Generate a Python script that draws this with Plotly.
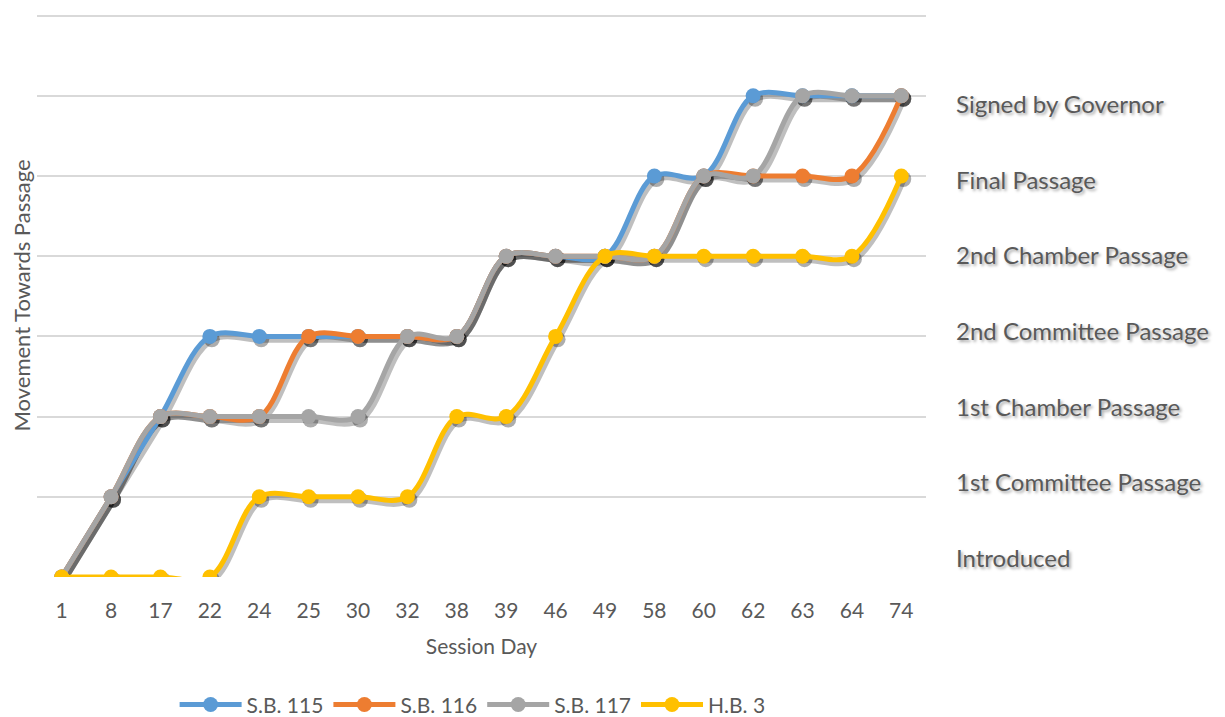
import plotly.graph_objects as go

session_days = ["1", "8", "17", "22", "24", "25", "30", "32", "38", "39", "46", "49", "58", "60", "62", "63", "64", "74"]
stages = ["Introduced", "1st Committee Passage", "1st Chamber Passage", "2nd Committee Passage",
          "2nd Chamber Passage", "Final Passage", "Signed by Governor"]

sb115 = [0, 1, 2, 3, 3, 3, 3, 3, 3, 4, 4, 4, 5, 5, 6, 6, 6, 6]
sb116 = [0, 1, 2, 2, 2, 3, 3, 3, 3, 4, 4, 4, 4, 5, 5, 5, 5, 6]
sb117 = [0, 1, 2, 2, 2, 2, 2, 3, 3, 4, 4, 4, 4, 5, 5, 6, 6, 6]
hb3 = [0, 0, 0, 0, 1, 1, 1, 1, 2, 2, 3, 4, 4, 4, 4, 4, 4, 5]

series = [("S.B. 115", sb115, "#5B9BD5"), ("S.B. 116", sb116, "#ED7D31"),
          ("S.B. 117", sb117, "#A5A5A5"), ("H.B. 3", hb3, "#FFC000")]

FONT = "Lato, 'Open Sans', sans-serif"
TXT = "#595959"

fig = go.Figure()

# soft drop shadows (drawn on a slightly offset copy of the axes)
for name, vals, col in series:
    fig.add_trace(go.Scatter(
        x=session_days, y=vals, mode="lines+markers", xaxis="x", yaxis="y",
        line=dict(color="rgba(0,0,0,0.25)", width=7, shape="spline", smoothing=1),
        marker=dict(size=16, color="rgba(0,0,0,0.32)"),
        showlegend=False, hoverinfo="skip"))

for name, vals, col in series:
    fig.add_trace(go.Scatter(
        x=session_days, y=vals, name=name, mode="lines+markers", xaxis="x2", yaxis="y2",
        line=dict(color=col, width=5, shape="spline", smoothing=1),
        marker=dict(size=15, color=col)))

n = len(stages)
for i, s in enumerate(stages):
    fig.add_annotation(text=s, xref="paper", yref="paper", x=1.032,
                       y=0.035 + i * (0.841 - 0.035) / (n - 1),
                       xanchor="left", yanchor="middle", showarrow=False,
                       font=dict(family=FONT, size=24, color=TXT,
                                 shadow="2px 2px 3px rgba(0,0,0,0.35)"))

fig.update_layout(
    width=1217, height=709,
    margin=dict(l=29, r=299, t=6, b=140, autoexpand=False),
    paper_bgcolor="white", plot_bgcolor="white",
    font=dict(family=FONT, color=TXT, size=21),
    xaxis=dict(type="category", categoryarray=session_days, range=[-0.54, 17.46],
               visible=False, showgrid=False),
    yaxis=dict(range=[0.037, 7.057], visible=False, showgrid=False),
    xaxis2=dict(type="category", categoryarray=session_days, range=[-0.5, 17.5],
                overlaying="x", anchor="y2", side="bottom", showgrid=False, automargin=False,
                showline=False, zeroline=False, ticks="", ticklabelstandoff=19,
                tickfont=dict(size=21, color=TXT),
                title=dict(text="Session Day", font=dict(size=21, color=TXT), standoff=18)),
    yaxis2=dict(range=[0, 7.02], dtick=1, overlaying="y", anchor="x2", side="left",
                showgrid=True, gridcolor="#D9D9D9", gridwidth=1.5, zeroline=False,
                showticklabels=False, ticks="", automargin=False,
                title=dict(text="Movement Towards Passage", font=dict(size=22, color=TXT),
                           standoff=2)),
    legend=dict(orientation="h", x=0.49, xanchor="center", y=-0.227, yanchor="middle",
                font=dict(size=21, color=TXT), itemwidth=62, traceorder="normal"),
    showlegend=True,
)

fig.write_html("out.html")
